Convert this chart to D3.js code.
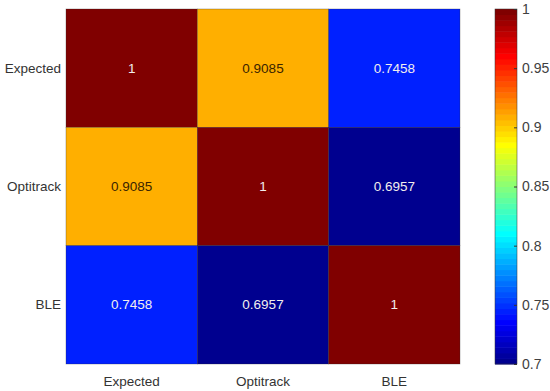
<!DOCTYPE html>
<html><head><meta charset="utf-8">
<script src="https://cdn.jsdelivr.net/npm/d3@7"></script>
<style>body{margin:0;background:#fff;font-family:"Liberation Sans",Arial,sans-serif;}</style>
</head><body>
<svg id="c" width="550" height="391"></svg>
<script>
const categories = ["Expected", "Optitrack", "BLE"];
const values = [
  [1, 0.9085, 0.7458],
  [0.9085, 1, 0.6957],
  [0.7458, 0.6957, 1]
];
const colorTicks = [0.7, 0.75, 0.8, 0.85, 0.9, 0.95, 1];
const cMin = 0.7, cMax = 1;

// MATLAB jet(64)
const N = 64;
const jetMap = (() => {
  const m = Math.ceil(N / 4);
  const u = [];
  for (let i = 1; i <= m; i++) u.push(i / m);
  for (let i = 0; i < m - 1; i++) u.push(1);
  for (let i = m; i >= 1; i--) u.push(i / m);
  const J = d3.range(N).map(() => [0, 0, 0]);
  const g0 = Math.ceil(m / 2) - (N % 4 === 1 ? 1 : 0);
  u.forEach((val, k) => {
    const g = g0 + k + 1, r = g + m, b = g - m;
    if (g <= N) J[g - 1][1] = val;
    if (r <= N) J[r - 1][0] = val;
    if (b >= 1) J[b - 1][2] = val;
  });
  return J.map(c => d3.rgb(c[0] * 255, c[1] * 255, c[2] * 255));
})();
const color = v => {
  const idx = Math.max(0, Math.min(N - 1, Math.floor((v - cMin) / (cMax - cMin) * N)));
  return jetMap[idx];
};

const svg = d3.select("#c");
const L = 66, R = 460, T = 9, B = 364;
const x = d3.scaleBand().domain(categories).range([L, R]);
const y = d3.scaleBand().domain(categories).range([T, B]);

const cells = [];
values.forEach((row, i) => row.forEach((v, j) => cells.push({r: categories[i], c: categories[j], v})));

svg.selectAll("rect.cell").data(cells).join("rect")
  .attr("x", d => x(d.c)).attr("y", d => y(d.r))
  .attr("width", x.bandwidth()).attr("height", y.bandwidth())
  .attr("fill", d => color(d.v))
  .attr("stroke", "rgba(40,40,40,0.5)").attr("stroke-width", 0.6);

svg.selectAll("text.val").data(cells).join("text")
  .attr("x", d => x(d.c) + x.bandwidth() / 2)
  .attr("y", d => y(d.r) + y.bandwidth() / 2)
  .attr("text-anchor", "middle").attr("dominant-baseline", "central")
  .attr("font-size", 13.5)
  .attr("fill", d => (d.v > 0.8 && d.v < 0.95) ? "#3a2400" : "#f2eeee")
  .text(d => d.v);

// axis labels
svg.selectAll("text.yl").data(categories).join("text")
  .attr("x", L - 5).attr("y", d => y(d) + y.bandwidth() / 2)
  .attr("text-anchor", "end").attr("dominant-baseline", "central")
  .attr("font-size", 13.5).attr("fill", "#333").text(d => d);
svg.selectAll("text.xl").data(categories).join("text")
  .attr("x", d => x(d) + x.bandwidth() / 2).attr("y", B + 17)
  .attr("text-anchor", "middle").attr("dominant-baseline", "central")
  .attr("font-size", 13.5).attr("fill", "#333").text(d => d);

// colorbar
const cbL = 495, cbW = 22;
const cy = d3.scaleLinear().domain([cMin, cMax]).range([B, T]);
const steps = d3.range(N);
svg.selectAll("rect.cb").data(steps).join("rect")
  .attr("x", cbL).attr("width", cbW)
  .attr("y", d => cy(cMin + (d + 1) / N * (cMax - cMin)))
  .attr("height", d => cy(cMin + d / N * (cMax - cMin)) - cy(cMin + (d + 1) / N * (cMax - cMin)) + 0.5)
  .attr("fill", d => jetMap[d]);
svg.append("rect").attr("x", cbL).attr("y", T).attr("width", cbW).attr("height", B - T)
  .attr("fill", "none").attr("stroke", "#333").attr("stroke-width", 0.5);
const ax = d3.axisRight(cy).tickValues(colorTicks).tickSize(-3).tickPadding(5)
  .tickFormat(d3.format(""));
const g = svg.append("g").attr("transform", `translate(${cbL + cbW},0)`).call(ax);
g.select(".domain").remove();
g.selectAll("text").style("font-size", "14px").attr("fill", "#404040").style("font-family", "Liberation Sans, Arial, sans-serif");
g.selectAll("line").attr("stroke", "#333");
</script>
</body></html>
